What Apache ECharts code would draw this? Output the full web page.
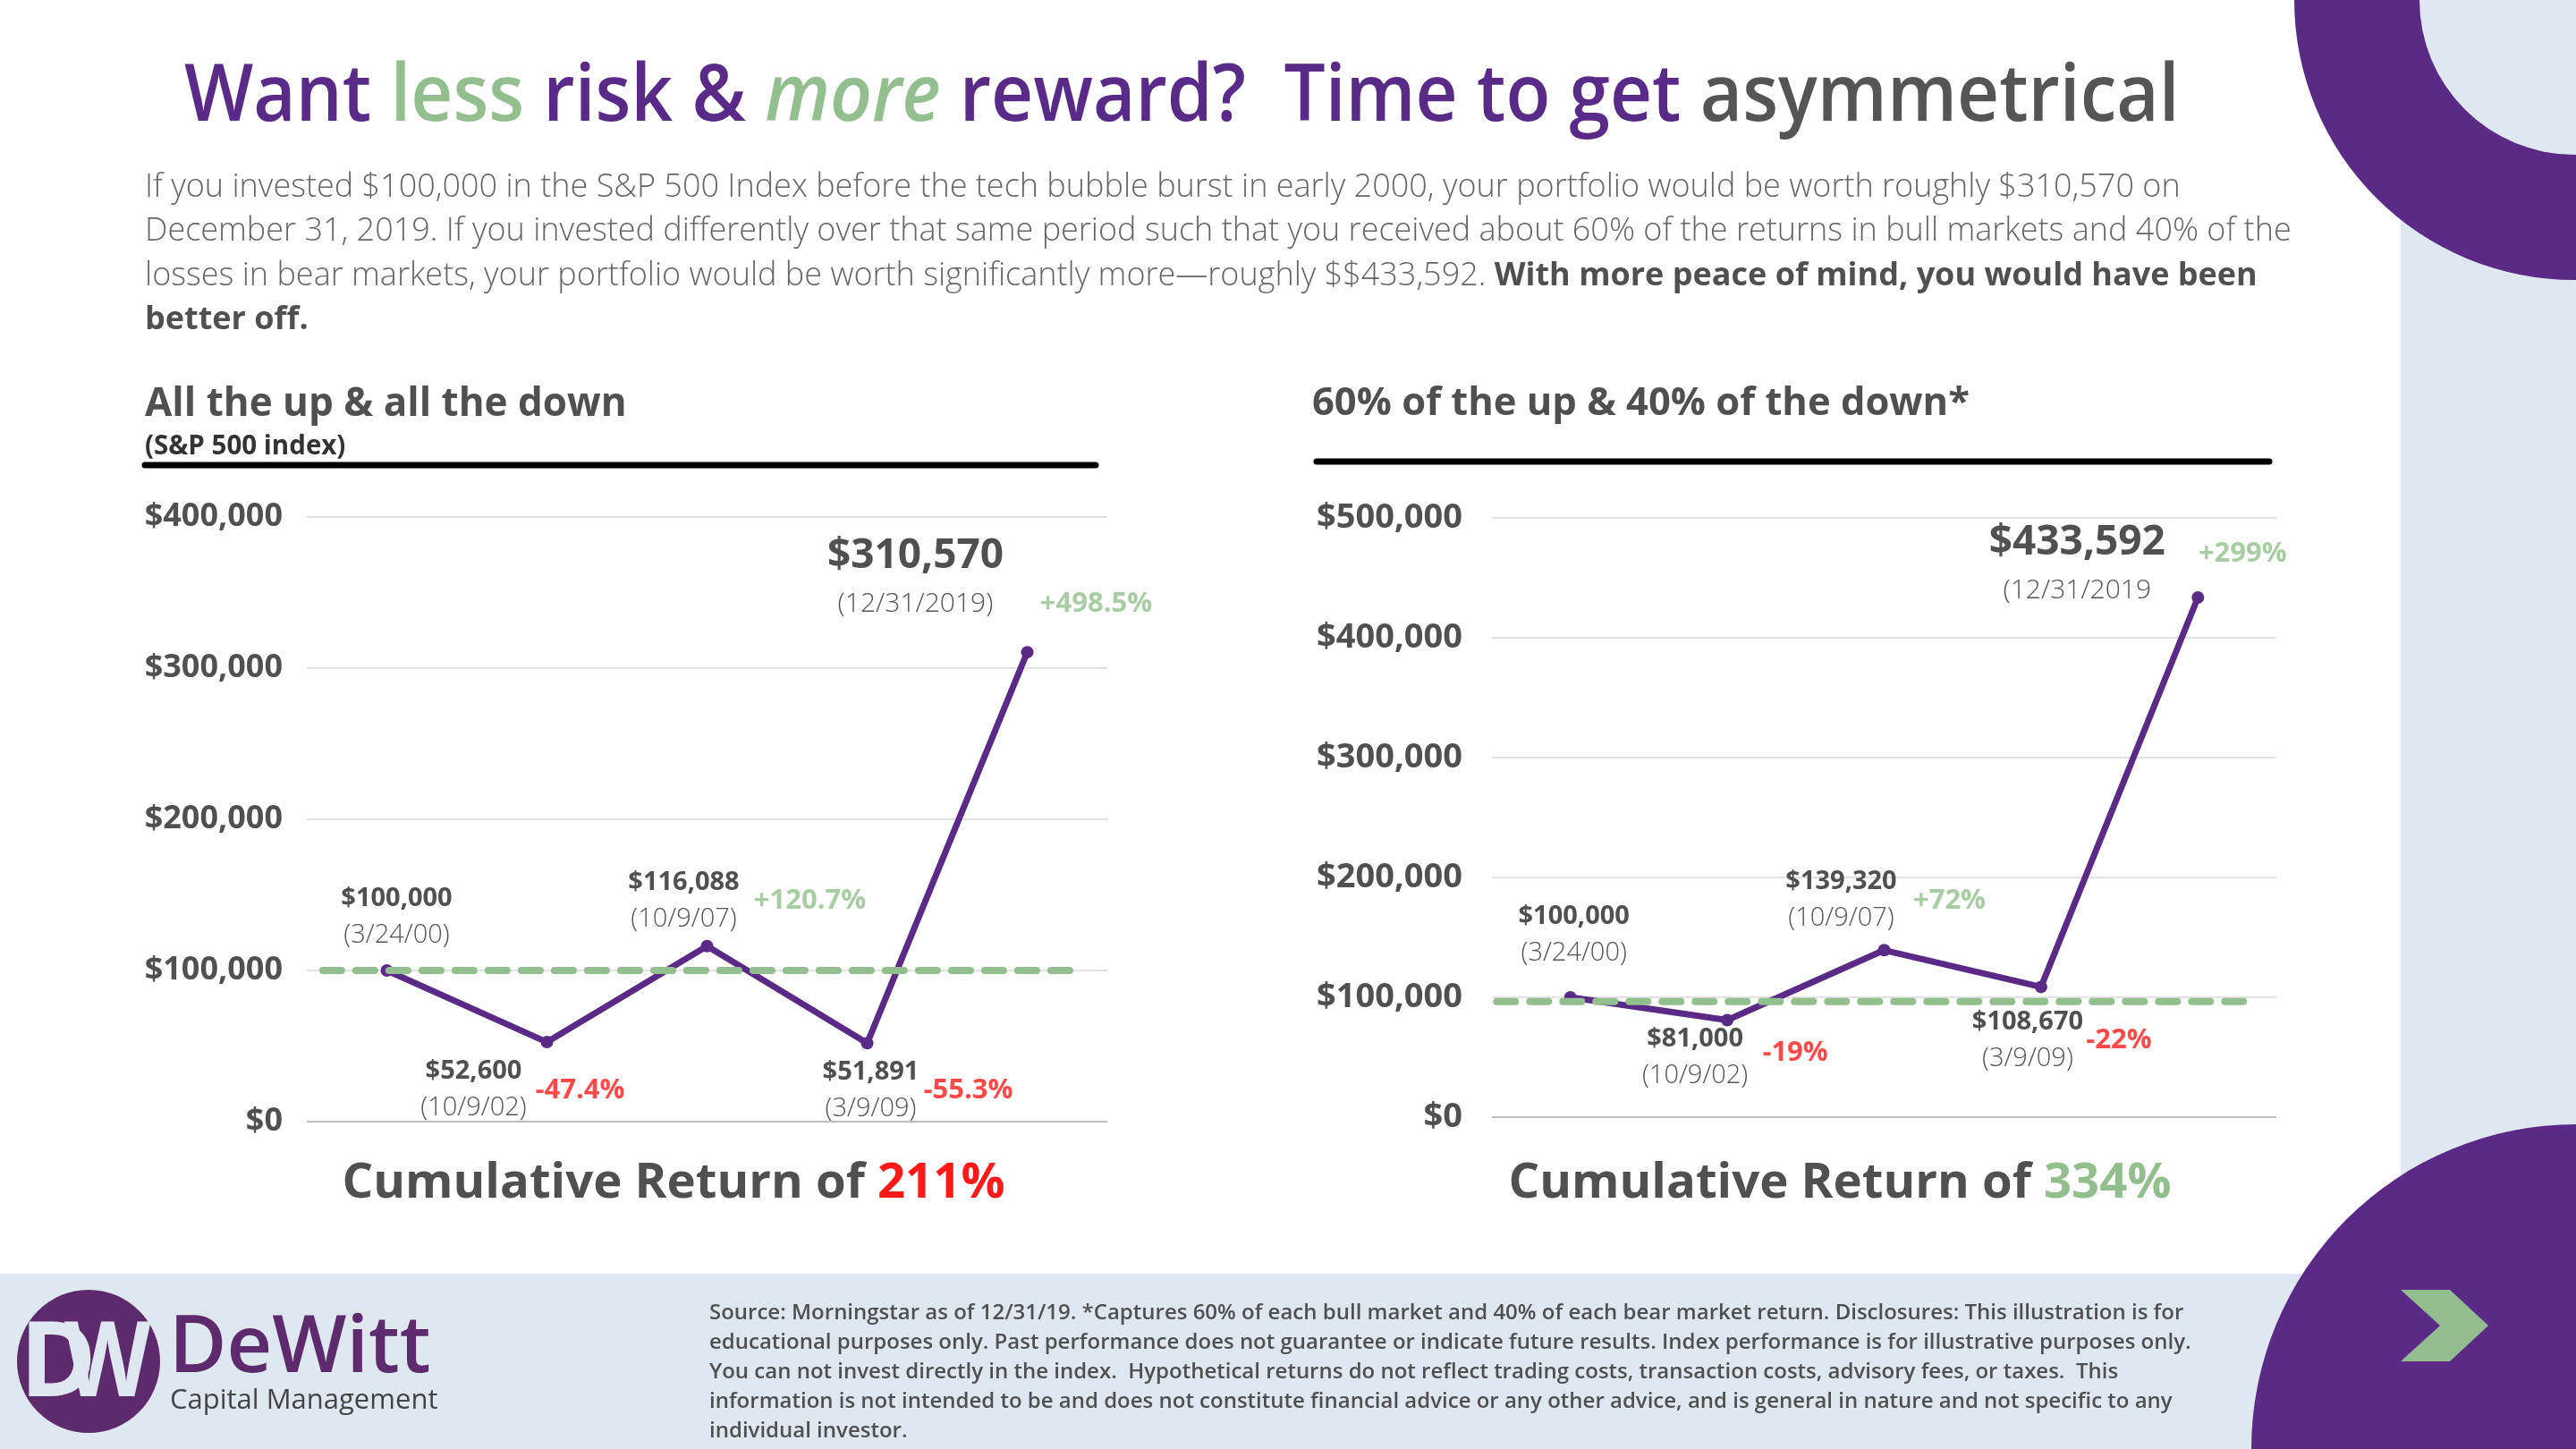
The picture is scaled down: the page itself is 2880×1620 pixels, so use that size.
<!DOCTYPE html>
<html><head><meta charset="utf-8">
<script src="https://cdn.jsdelivr.net/npm/echarts@6/dist/echarts.min.js"></script>
<style>html,body{margin:0;padding:0;background:#fff}#c{width:2880px;height:1620px}</style>
</head><body><div id="c"></div>
<script>
// ---------- DATA ----------
const categories = ['3/24/00', '10/9/02', '10/9/07', '3/9/09', '12/31/2019'];
const allValues = [100000, 52600, 116088, 51891, 310570];
const allValueLabels = ['$100,000', '$52,600', '$116,088', '$51,891', '$310,570'];
const allDateLabels = ['(3/24/00)', '(10/9/02)', '(10/9/07)', '(3/9/09)', '(12/31/2019)'];
const allChangeLabels = ['', '-47.4%', '+120.7%', '-55.3%', '+498.5%'];
const asymValues = [100000, 81000, 139320, 108670, 433592];
const asymValueLabels = ['$100,000', '$81,000', '$139,320', '$108,670', '$433,592'];
const asymDateLabels = ['(3/24/00)', '(10/9/02)', '(10/9/07)', '(3/9/09)', '(12/31/2019'];
const asymChangeLabels = ['', '-19%', '+72%', '-22%', '+299%'];
const leftTicks = ['$0', '$100,000', '$200,000', '$300,000', '$400,000'];
const rightTicks = ['$0', '$100,000', '$200,000', '$300,000', '$400,000', '$500,000'];
const leftBaselineValue = 100000;
const rightBaselineValue = 96500;

// ---------- LAYOUT / STYLE ----------
const FONT = '"Open Sans", "Noto Sans", sans-serif';
const PURPLE = '#5b2a86';
const LOGO = '#5e2a6e';
const GREEN = '#93bf8f';
const RED = '#ff1a1a';
const GRAY = '#505050';
const LIGHT = '#dfe8f1';

const leftLabelOffsets = [[11, -59.5], [-82, 53.5], [-26, -50.5], [4, 52.5], [-125, -84]];
const leftChangeOffsets = [null, [37, 54], [115, -51], [113, 53], [77, -54]];
const rightLabelOffsets = [[4, -69.5], [-36, 41.5], [-48, -56.5], [-15, 59.5], [-135, -38]];
const rightChangeOffsets = [null, [76, 37], [73, -55], [87, 60], [50, -49]];
const leftBaseExtent = [-0.40, 4.33];
const rightBaseExtent = [-0.47, 4.35];

const richLabels = {
  v: { fontFamily: FONT, fontSize: 29, fontWeight: 700, color: GRAY, lineHeight: 41 },
  d: { fontFamily: FONT, fontSize: 29, fontWeight: 300, color: '#555', lineHeight: 41 },
  V: { fontFamily: FONT, fontSize: 46, fontWeight: 700, color: GRAY, lineHeight: 60 },
  D: { fontFamily: FONT, fontSize: 30, fontWeight: 300, color: '#555', lineHeight: 46 }
};

function lineSeries(idx, values, valueLabels, dateLabels, offsets) {
  const last = values.length - 1;
  return {
    type: 'line', xAxisIndex: idx, yAxisIndex: idx, z: 4,
    data: values.map((v, i) => ({ value: [i, v], label: { offset: offsets[i] } })),
    symbol: 'circle', symbolSize: 14, showSymbol: true,
    lineStyle: { color: PURPLE, width: 7 }, itemStyle: { color: PURPLE },
    label: {
      show: true, position: 'inside', align: 'center', verticalAlign: 'middle',
      formatter: p => p.dataIndex === last
        ? '{V|' + valueLabels[p.dataIndex] + '}\n{D|' + dateLabels[p.dataIndex] + '}'
        : '{v|' + valueLabels[p.dataIndex] + '}\n{d|' + dateLabels[p.dataIndex] + '}',
      rich: richLabels
    },
    emphasis: { disabled: true }, animation: false
  };
}
function changeSeries(idx, values, changeLabels, offsets) {
  const data = [];
  values.forEach((v, i) => {
    if (changeLabels[i]) data.push({
      value: [i, v],
      label: { offset: offsets[i], color: changeLabels[i][0] === '-' ? RED : GREEN },
      name: changeLabels[i]
    });
  });
  return {
    type: 'scatter', xAxisIndex: idx, yAxisIndex: idx, symbolSize: 0, z: 6, silent: true,
    data,
    label: {
      show: true, position: 'inside', align: 'center', verticalAlign: 'middle',
      fontFamily: FONT, fontSize: 31, fontWeight: 700,
      formatter: p => p.name
    },
    animation: false
  };
}
function baseline(idx, extent, value) {
  return {
    type: 'line', xAxisIndex: idx, yAxisIndex: idx, z: 5, silent: true,
    data: [[extent[0], value], [extent[1], value]],
    symbol: 'none',
    lineStyle: { color: GREEN, width: 8, type: [21, 16], cap: 'round' },
    animation: false
  };
}
const splitColors = ['#bdbdbd', '#e2e2e2', '#e2e2e2', '#e2e2e2', '#e2e2e2', '#e2e2e2'];

function t(x, y, text, style, extra) {
  return Object.assign({ type: 'text', x, y, z: 10, style: Object.assign({ text, fontFamily: FONT, verticalAlign: 'middle', align: 'left' }, style) }, extra || {});
}

const graphics = [
  { type: 'rect', shape: { x: 2684, y: 0, width: 196, height: 1620 }, style: { fill: LIGHT }, z: 0 },
  { type: 'rect', shape: { x: 0, y: 1424, width: 2880, height: 196 }, style: { fill: LIGHT }, z: 0 },
  { type: 'ring', shape: { cx: 2878, cy: 0, r: 313, r0: 173 }, style: { fill: PURPLE }, z: 1 },
  { type: 'circle', shape: { cx: 2880, cy: 1620, r: 363 }, style: { fill: PURPLE }, z: 1 },
  { type: 'polygon', shape: { points: [[2684, 1442], [2739, 1442], [2782, 1482], [2739, 1522], [2684, 1522], [2728, 1482]] }, style: { fill: '#93bd8f' }, z: 2 },
  // title
  t(206, 110, '{p|Want }{g|less}{p| risk & }{gi|more}{p| reward?  Time to get }{k|asymmetrical}', {
    rich: {
      p: { fontFamily: FONT, fontSize: 88, fontWeight: 600, fill: '#5a2a88' },
      g: { fontFamily: FONT, fontSize: 88, fontWeight: 600, fill: GREEN },
      gi: { fontFamily: FONT, fontSize: 88, fontWeight: 600, fontStyle: 'italic', fill: GREEN },
      k: { fontFamily: FONT, fontSize: 88, fontWeight: 600, fill: '#555' }
    }
  }, { scaleX: 0.93 }),
  // paragraph
  t(162, 210, 'If you invested $100,000 in the S&P 500 Index before the tech bubble burst in early 2000, your portfolio would be worth roughly $310,570 on', { fontSize: 36, fontWeight: 300, fill: '#666' }),
  t(162, 259, 'December 31, 2019. If you invested differently over that same period such that you received about 60% of the returns in bull markets and 40% of the', { fontSize: 36, fontWeight: 300, fill: '#666' }),
  t(162, 309, '{l|losses in bear markets, your portfolio would be worth significantly more\u2014roughly $$433,592. }{b|With more peace of mind, you would have been}', {
    rich: {
      l: { fontFamily: FONT, fontSize: 36, fontWeight: 300, fill: '#666' },
      b: { fontFamily: FONT, fontSize: 36, fontWeight: 700, fill: GRAY }
    }
  }),
  t(162, 358, 'better off.', { fontSize: 36, fontWeight: 700, fill: GRAY }),
  // headings
  t(162, 452, 'All the up & all the down', { fontSize: 44, fontWeight: 700, fill: GRAY }),
  t(162, 500, '(S&P 500 index)', { fontSize: 29.5, fontWeight: 700, fill: '#333' }),
  { type: 'line', shape: { x1: 162, y1: 520, x2: 1225, y2: 520 }, style: { stroke: '#000', lineWidth: 7, lineCap: 'round' }, z: 10 },
  t(1467, 452, '60% of the up & 40% of the down*', { fontSize: 43.5, fontWeight: 700, fill: GRAY }),
  { type: 'line', shape: { x1: 1472, y1: 516, x2: 2537, y2: 516 }, style: { stroke: '#000', lineWidth: 7, lineCap: 'round' }, z: 10 },
  // cumulative
  t(753, 1323, '{a|Cumulative Return of }{r|211%}', {
    align: 'center',
    rich: {
      a: { fontFamily: FONT, fontSize: 54.5, fontWeight: 700, fill: GRAY },
      r: { fontFamily: FONT, fontSize: 54.5, fontWeight: 700, fill: RED }
    }
  }),
  t(2057, 1323, '{a|Cumulative Return of }{r|334%}', {
    align: 'center',
    rich: {
      a: { fontFamily: FONT, fontSize: 54.5, fontWeight: 700, fill: GRAY },
      r: { fontFamily: FONT, fontSize: 54.5, fontWeight: 700, fill: GREEN }
    }
  }),
  // footer text
  t(793, 1468, 'Source: Morningstar as of 12/31/19. *Captures 60% of each bull market and 40% of each bear market return. Disclosures: This illustration is for', { fontSize: 24, fontWeight: 600, fill: GRAY }),
  t(793, 1501, 'educational purposes only. Past performance does not guarantee or indicate future results. Index performance is for illustrative purposes only.', { fontSize: 24, fontWeight: 600, fill: GRAY }),
  t(793, 1534, 'You can not invest directly in the index.  Hypothetical returns do not reflect trading costs, transaction costs, advisory fees, or taxes.  This', { fontSize: 24, fontWeight: 600, fill: GRAY }),
  t(793, 1567, 'information is not intended to be and does not constitute financial advice or any other advice, and is general in nature and not specific to any', { fontSize: 24, fontWeight: 600, fill: GRAY }),
  t(793, 1600, 'individual investor.', { fontSize: 24, fontWeight: 600, fill: GRAY }),
  // logo
  { type: 'circle', shape: { cx: 99, cy: 1522, r: 80 }, style: { fill: LOGO }, z: 3 },
  t(22, 1528, 'D', { fontSize: 116, fontWeight: 700, fill: LIGHT }),
  t(72, 1528, 'W', { fontSize: 116, fontWeight: 700, fill: LIGHT }, { scaleX: 0.86 }),
  t(189, 1509, 'DeWitt', { fontSize: 88, fontWeight: 600, fill: LOGO }),
  t(190, 1566, 'Capital Management', { fontSize: 31, fontWeight: 400, fill: '#444' })
];

const option = {
  backgroundColor: '#ffffff',
  animation: false,
  grid: [
    { left: 343, right: 2880 - 1238, top: 578, bottom: 1620 - 1254 },
    { left: 1668, right: 2880 - 2545, top: 579, bottom: 1620 - 1249 }
  ],
  xAxis: [
    { type: 'value', gridIndex: 0, min: -0.5, max: 4.5, show: false },
    { type: 'value', gridIndex: 1, min: -0.5, max: 4.5, show: false }
  ],
  yAxis: [
    {
      type: 'value', gridIndex: 0, min: 0, max: 400000, interval: 100000,
      axisLine: { show: false }, axisTick: { show: false },
      splitLine: { lineStyle: { color: splitColors, width: 2 } },
      axisLabel: { margin: 27, padding: [8, 0, 0, 0], fontFamily: FONT, fontSize: 36, fontWeight: 700, color: GRAY, formatter: v => leftTicks[Math.round(v / 100000)] }
    },
    {
      type: 'value', gridIndex: 1, min: 0, max: 500000, interval: 100000,
      axisLine: { show: false }, axisTick: { show: false },
      splitLine: { lineStyle: { color: splitColors, width: 2 } },
      axisLabel: { margin: 33, padding: [8, 0, 0, 0], fontFamily: FONT, fontSize: 38, fontWeight: 700, color: GRAY, formatter: v => rightTicks[Math.round(v / 100000)] }
    }
  ],
  series: [
    lineSeries(0, allValues, allValueLabels, allDateLabels, leftLabelOffsets),
    baseline(0, leftBaseExtent, leftBaselineValue),
    changeSeries(0, allValues, allChangeLabels, leftChangeOffsets),
    lineSeries(1, asymValues, asymValueLabels, asymDateLabels, rightLabelOffsets),
    baseline(1, rightBaseExtent, rightBaselineValue),
    changeSeries(1, asymValues, asymChangeLabels, rightChangeOffsets)
  ],
  graphic: graphics
};

const chart = echarts.init(document.getElementById('c'), null, { renderer: 'canvas' });
chart.setOption(option);
</script>
</body></html>
